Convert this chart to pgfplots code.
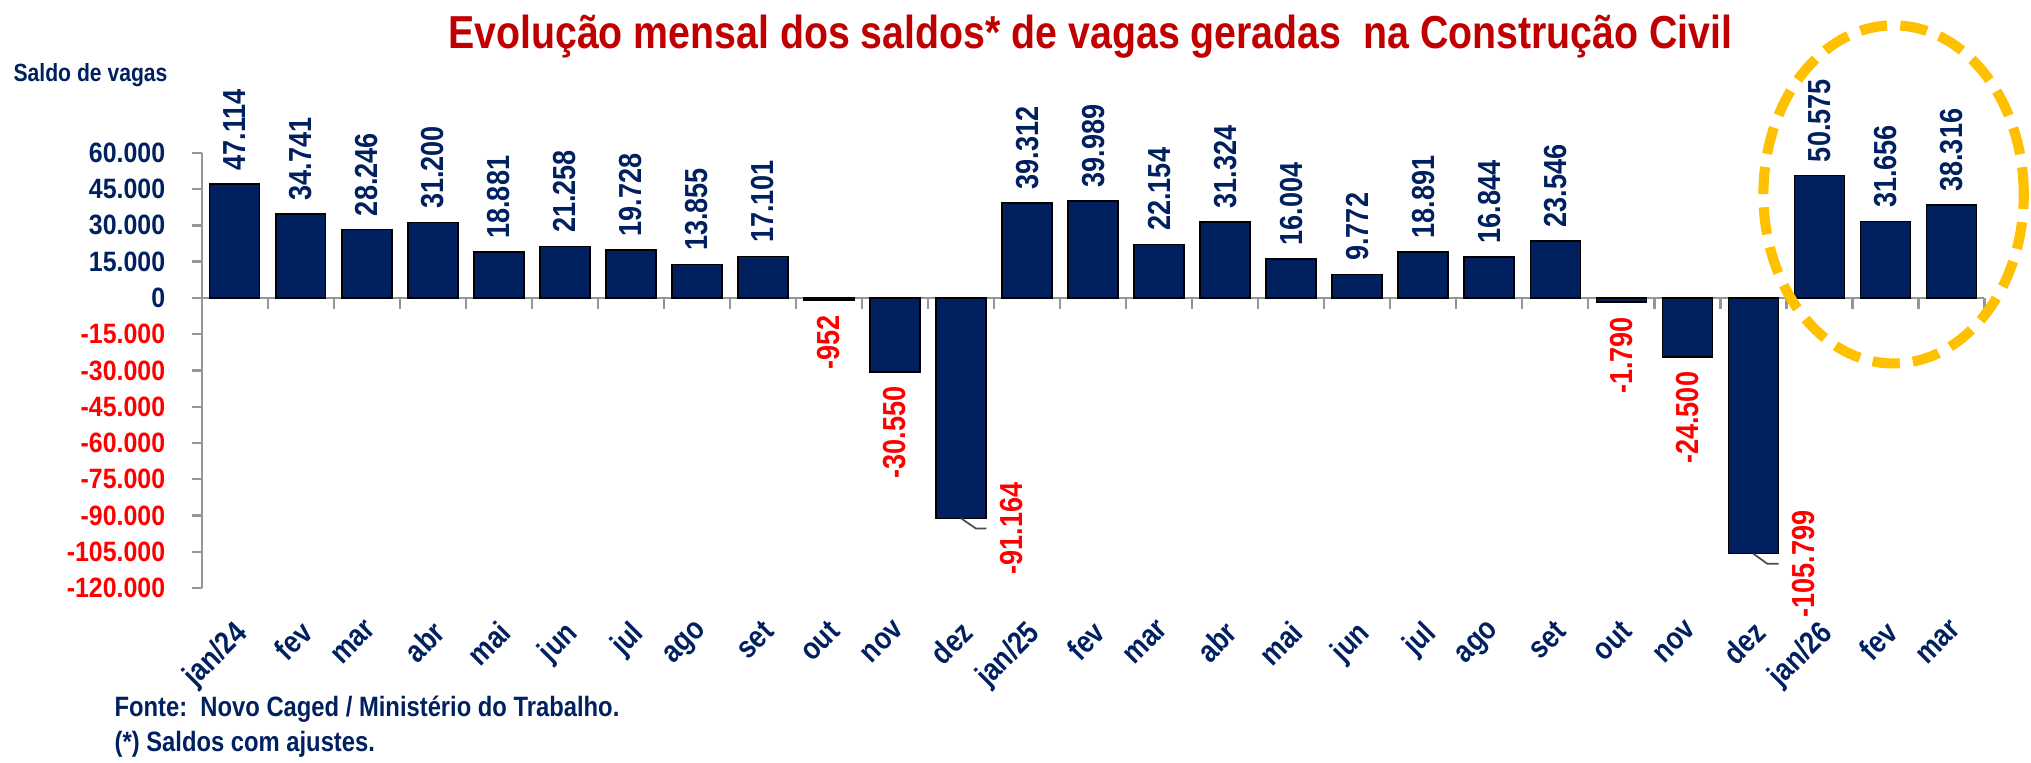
\documentclass[border=0pt]{standalone}
\usepackage{pgfplots}
\pgfplotsset{compat=1.18}
\usepackage{fontspec}
\setmainfont{Liberation Sans}
\newfontfamily\cfa{Liberation Sans}[FakeStretch=0.85]
\newfontfamily\cfy{Liberation Sans}[FakeStretch=0.89]
\definecolor{navy}{RGB}{0,32,96}
\definecolor{tred}{RGB}{192,0,0}
\definecolor{lred}{RGB}{255,0,0}
\definecolor{agray}{RGB}{150,150,150}
\definecolor{gold}{RGB}{255,192,0}
\newcommand{\fs}[2]{#1\fontsize{#2}{#2}\selectfont\bfseries}
\begin{document}
\begin{tikzpicture}[x=1pt,y=1pt]
\path[use as bounding box] (0,0) rectangle (522.67,196.33);
\begin{axis}[
  at={(51.9pt,45pt)}, anchor=south west,
  scale only axis, width=458.8pt, height=112pt,
  xmin=-0.5, xmax=26.5, ymin=-120000, ymax=60000,
  axis x line*=bottom, axis y line*=left,
  axis line style={-}, x axis line style={draw=none},
  y axis line style={agray, line width=0.6pt},
  scaled ticks=false,
  xtick={0,...,26},
  xticklabels={jan/24,fev,mar,abr,mai,jun,jul,ago,set,out,nov,dez,jan/25,fev,mar,abr,mai,jun,jul,ago,set,out,nov,dez,jan/26,fev,mar},
  x tick style={draw=none},
  xticklabel style={xshift=-0.5pt, yshift=-5.3pt, rotate=45, anchor=north east, inner sep=0pt, text=navy, font=\fs{\cfa}{8}},
  ytick={-120000,-105000,-90000,-75000,-60000,-45000,-30000,-15000,0,15000,30000,45000,60000},
  yticklabels={{\color{lred}-120.000},{\color{lred}-105.000},{\color{lred}-90.000},{\color{lred}-75.000},{\color{lred}-60.000},{\color{lred}-45.000},{\color{lred}-30.000},{\color{lred}-15.000},0,15.000,30.000,45.000,60.000},
  yticklabel style={text=navy, font=\fs{\cfy}{7.2}, inner sep=0pt, xshift=-6.8pt},
  y tick style={agray, line width=0.6pt},
  tick align=outside, major tick length=2.4pt,
  clip=false,
  point meta=explicit symbolic,
]
% zero line and category boundary ticks
\draw[agray, line width=0.6pt] (axis cs:-0.5,0) -- (axis cs:26.5,0);
\pgfplotsinvokeforeach{-0.5,0.5,1.5,2.5,3.5,4.5,5.5,6.5,7.5,8.5,9.5,10.5,11.5,12.5,13.5,14.5,15.5,16.5,17.5,18.5,19.5,20.5,21.5,22.5,23.5,24.5,25.5,26.5}{
  \draw[agray, line width=0.6pt] (axis cs:#1,0) -- ([yshift=-2.8pt]axis cs:#1,0);
}
% positive
\addplot[ybar, bar width=0.757, bar shift=0pt, fill=navy, draw=black, line width=0.4pt,
  nodes near coords,
  every node near coord/.append style={rotate=90, anchor=west, inner sep=3.3pt, text=navy, font=\fs{\cfa}{8.2}}]
coordinates {
(0,47114)[47.114] (1,34741)[34.741] (2,28246)[28.246] (3,31200)[31.200]
(4,18881)[18.881] (5,21258)[21.258] (6,19728)[19.728] (7,13855)[13.855]
(8,17101)[17.101]
(12,39312)[39.312] (13,39989)[39.989] (14,22154)[22.154] (15,31324)[31.324]
(16,16004)[16.004] (17,9772)[9.772] (18,18891)[18.891] (19,16844)[16.844]
(20,23546)[23.546]
(24,50575)[50.575] (25,31656)[31.656] (26,38316)[38.316]
};
% small negatives
\addplot[ybar, bar width=0.757, bar shift=0pt, fill=navy, draw=black, line width=0.4pt,
  nodes near coords,
  every node near coord/.append style={rotate=90, anchor=east, inner sep=3.6pt, text=lred, font=\fs{\cfa}{8.2}}]
coordinates {
(9,-952)[-952] (10,-30550)[-30.550] (21,-1790)[-1.790] (22,-24500)[-24.500]
};
% large negatives (labels beside, with leader lines)
\addplot[ybar, bar width=0.757, bar shift=0pt, fill=navy, draw=black, line width=0.4pt]
coordinates {(11,-91164) (23,-105799)};
\addplot[draw=none, mark=none, nodes near coords,
  every node near coord/.append style={xshift=12.9pt, yshift=-2.6pt, rotate=90, anchor=center, inner sep=0pt, text=lred, font=\fs{\cfa}{8.2}}]
coordinates {(11,-91164)[-91.164] (23,-105799)[-105.799]};
\draw[black!70, line width=0.45pt] (axis cs:11,-91164) -- ++(3.8pt,-2.6pt) -- ++(2.7pt,0pt);
\draw[black!70, line width=0.45pt] (axis cs:23,-105799) -- ++(3.6pt,-2.6pt) -- ++(2.9pt,0pt);
\end{axis}
% title and texts
\node[anchor=base, text=tred, font=\fs{\cfa}{11.9}] at (280.6,183.9) {Evolução mensal dos saldos* de vagas geradas\ \ na Construção Civil};
\node[anchor=west, text=navy, font=\fs{\cfa}{6.4}, inner sep=0pt] at (3.3,177) {Saldo de vagas};
\node[anchor=west, text=navy, font=\fs{\cfa}{7.2}, inner sep=0pt] at (29.3,13.7) {Fonte:\ \ Novo Caged / Ministério do Trabalho.};
\node[anchor=west, text=navy, font=\fs{\cfa}{7.2}, inner sep=0pt] at (29.3,4.7) {(*) Saldos com ajustes.};
% highlight
\draw[gold, line width=2.6pt, dash pattern=on 7pt off 3.4pt] (487.3,146.3) ellipse [x radius=33.5pt, y radius=43.5pt];
\end{tikzpicture}
\end{document}
